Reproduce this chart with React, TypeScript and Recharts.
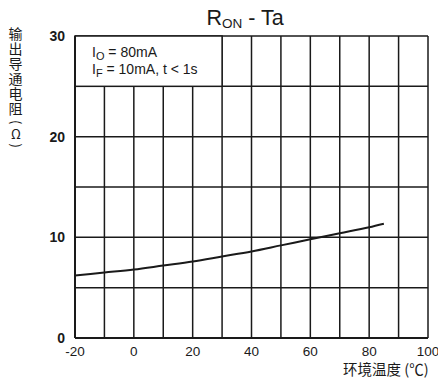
import React from 'react';
import { LineChart, Line, XAxis, YAxis, CartesianGrid } from 'recharts';

// Ambient temperature (°C) and on-resistance (Ω)
const temperatures = [-20, -10, 0, 10, 20, 30, 40, 50, 60, 70, 80, 85];
const resistance = [6.2, 6.5, 6.8, 7.2, 7.6, 8.1, 8.6, 9.2, 9.8, 10.4, 11.0, 11.35];

const xTicks = [-20, -10, 0, 10, 20, 30, 40, 50, 60, 70, 80, 90, 100];
const yTicks = [0, 5, 10, 15, 20, 25, 30];
const xLabelled = [-20, 0, 20, 40, 60, 80, 100];
const yLabelled = [0, 10, 20, 30];

const data = temperatures.map((t, i) => ({ t, r: resistance[i] }));

const FONT = '"Liberation Sans", Arial, Helvetica, sans-serif';
const CJK = '"Noto Sans CJK SC", "Noto Sans", sans-serif';
const INK = '#1a1a1a';

// chart frame
const W = 438;
const H = 378;
const MARGIN = { top: 36, right: 10, bottom: 10, left: 45 };
const Y_AXIS_W = 30;
const X_AXIS_H = 30;
const X_DOMAIN: [number, number] = [-20, 100];
const Y_DOMAIN: [number, number] = [0, 30];

// plot area, used to place the conditions box in the top-left cells
const PLOT_LEFT = MARGIN.left + Y_AXIS_W;
const PLOT_TOP = MARGIN.top;
const PLOT_W = W - PLOT_LEFT - MARGIN.right;
const PLOT_H = H - PLOT_TOP - MARGIN.bottom - X_AXIS_H;
const px = (v: number) => PLOT_LEFT + ((v - X_DOMAIN[0]) / (X_DOMAIN[1] - X_DOMAIN[0])) * PLOT_W;
const py = (v: number) => PLOT_TOP + ((Y_DOMAIN[1] - v) / (Y_DOMAIN[1] - Y_DOMAIN[0])) * PLOT_H;
const BOX = { x1: -20, x2: 30, y1: 25, y2: 30 };

const fmtX = (v: number) => (xLabelled.includes(v) ? String(v) : '');
const fmtY = (v: number) => (yLabelled.includes(v) ? String(v) : '');

export default function App() {
  return (
    <div style={{ position: 'absolute', left: 0, top: 0, width: W, height: H, background: '#fff' }}>
      <LineChart width={W} height={H} data={data} margin={MARGIN}>
        <CartesianGrid stroke={INK} strokeWidth={1.5} />
        <XAxis
          dataKey="t"
          type="number"
          domain={X_DOMAIN}
          ticks={xTicks}
          height={X_AXIS_H}
          tickLine={false}
          tickSize={6}
          tickMargin={2.5}
          axisLine={{ stroke: INK, strokeWidth: 2 }}
          tickFormatter={fmtX}
          tick={{ fontSize: 13.5, fontFamily: FONT, fill: INK }}
          interval={0}
        />
        <YAxis
          type="number"
          domain={Y_DOMAIN}
          ticks={yTicks}
          width={Y_AXIS_W}
          tickLine={false}
          tickSize={6}
          tickMargin={4}
          axisLine={{ stroke: INK, strokeWidth: 2 }}
          tickFormatter={fmtY}
          tick={{ fontSize: 14, fontWeight: 'bold', fontFamily: FONT, fill: INK }}
          interval={0}
        />
        <Line dataKey="r" type="monotone" stroke={INK} strokeWidth={2} dot={false} isAnimationActive={false} />
      </LineChart>
      <svg width={W} height={H} style={{ position: 'absolute', left: 0, top: 0, pointerEvents: 'none' }}>
        <rect
          x={px(BOX.x1)}
          y={py(BOX.y2)}
          width={px(BOX.x2) - px(BOX.x1)}
          height={py(BOX.y1) - py(BOX.y2)}
          fill="#fff"
          stroke={INK}
          strokeWidth={1.5}
        />
        <line x1={px(BOX.x1)} y1={py(BOX.y2)} x2={px(BOX.x1)} y2={py(BOX.y1)} stroke={INK} strokeWidth={2} />
        <text x={206.5} y={25} fontSize={21.5} fontFamily={FONT} fill={INK}>
          R<tspan fontSize={13.5} dy={3}>ON</tspan>
          <tspan dy={-3}> - Ta</tspan>
        </text>
        <text x={92} y={57} fontSize={14} fontFamily={FONT} fill={INK}>
          I<tspan fontSize={11} dy={3}>O</tspan>
          <tspan dy={-3}> = 80mA</tspan>
        </text>
        <text x={92} y={73.5} fontSize={14} fontFamily={FONT} fill={INK}>
          I<tspan fontSize={11} dy={3}>F</tspan>
          <tspan dy={-3}> = 10mA, t &lt; 1s</tspan>
        </text>
        <text x={343} y={375} fontSize={14.5} fontFamily={CJK} fill={INK}>
          环境温度 (℃)
        </text>
      </svg>
      <div
        style={{
          position: 'absolute',
          left: 7.5,
          top: 27,
          height: 130,
          lineHeight: '16px',
          fontSize: 14,
          fontFamily: CJK,
          color: INK,
          letterSpacing: 1,
          writingMode: 'vertical-rl',
          textOrientation: 'mixed',
          whiteSpace: 'nowrap',
        }}
      >
        输出导通电阻
        <span style={{ letterSpacing: 3, marginTop: 3, fontSize: 13 }}>
          (<span style={{ textOrientation: 'upright' }}>Ω</span>)
        </span>
      </div>
    </div>
  );
}
